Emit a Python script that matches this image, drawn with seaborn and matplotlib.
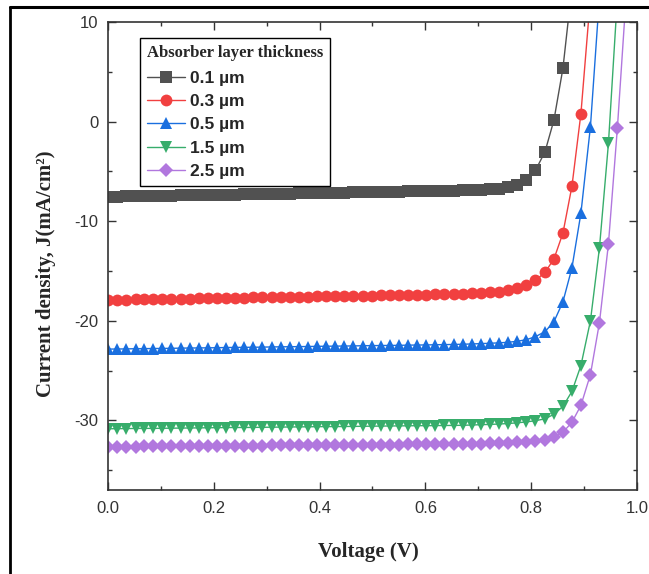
import numpy as np
import pandas as pd
import matplotlib
matplotlib.use('Agg')
import matplotlib.pyplot as plt
import matplotlib.ticker as tick
from matplotlib.lines import Line2D
import seaborn as sns

# voltage sweep (V)
voltage = [0.000, 0.017, 0.034, 0.052, 0.069, 0.086, 0.103, 0.120, 0.138, 0.155,
           0.172, 0.189, 0.206, 0.224, 0.241, 0.258, 0.275, 0.292, 0.310, 0.327,
           0.344, 0.361, 0.378, 0.396, 0.413, 0.430, 0.447, 0.464, 0.482, 0.499,
           0.516, 0.533, 0.550, 0.568, 0.585, 0.602, 0.619, 0.636, 0.654, 0.671,
           0.688, 0.705, 0.722, 0.740, 0.757, 0.774, 0.791, 0.808, 0.826, 0.843,
           0.860, 0.877, 0.894, 0.912, 0.929, 0.946, 0.963, 0.980]

# current density (mA/cm2) for each absorber thickness
j_01 = [-7.55, -7.53, -7.52, -7.50, -7.49, -7.47, -7.45, -7.44, -7.42, -7.41,
        -7.39, -7.37, -7.36, -7.34, -7.33, -7.31, -7.29, -7.28, -7.26, -7.25,
        -7.23, -7.21, -7.20, -7.18, -7.17, -7.15, -7.13, -7.12, -7.10, -7.09,
        -7.07, -7.05, -7.04, -7.02, -7.01, -6.99, -6.97, -6.95, -6.93, -6.91,
        -6.88, -6.85, -6.81, -6.74, -6.62, -6.40, -5.90, -4.90, -3.05, 0.15,
        5.35, 13.50]
j_03 = [-17.90, -17.89, -17.87, -17.86, -17.84, -17.83, -17.81, -17.80, -17.78, -17.77,
        -17.75, -17.74, -17.72, -17.71, -17.69, -17.68, -17.66, -17.65, -17.63, -17.62,
        -17.60, -17.59, -17.57, -17.56, -17.54, -17.53, -17.51, -17.50, -17.48, -17.47,
        -17.45, -17.44, -17.42, -17.41, -17.39, -17.37, -17.35, -17.33, -17.31, -17.28,
        -17.25, -17.21, -17.16, -17.08, -16.95, -16.75, -16.45, -15.95, -15.15, -13.80,
        -11.20, -6.50, 0.80, 12.50]
j_05 = [-22.85, -22.84, -22.83, -22.81, -22.80, -22.79, -22.78, -22.77, -22.75, -22.74,
        -22.73, -22.72, -22.71, -22.69, -22.68, -22.67, -22.66, -22.65, -22.63, -22.62,
        -22.61, -22.60, -22.59, -22.57, -22.56, -22.55, -22.54, -22.53, -22.51, -22.50,
        -22.49, -22.48, -22.47, -22.45, -22.44, -22.43, -22.41, -22.40, -22.38, -22.36,
        -22.33, -22.30, -22.26, -22.22, -22.16, -22.06, -21.90, -21.60, -21.10, -20.10,
        -18.10, -14.70, -9.20, -0.50, 12.50]
j_15 = [-30.85, -30.84, -30.83, -30.82, -30.81, -30.81, -30.80, -30.79, -30.78, -30.77,
        -30.76, -30.75, -30.74, -30.73, -30.72, -30.72, -30.71, -30.70, -30.69, -30.68,
        -30.67, -30.66, -30.65, -30.64, -30.63, -30.63, -30.62, -30.61, -30.60, -30.59,
        -30.58, -30.57, -30.56, -30.55, -30.54, -30.54, -30.53, -30.52, -30.51, -30.50,
        -30.47, -30.44, -30.41, -30.37, -30.32, -30.25, -30.16, -30.04, -29.85, -29.40,
        -28.60, -27.10, -24.50, -20.00, -12.70, -2.20, 12.50]
j_25 = [-32.65, -32.64, -32.64, -32.63, -32.62, -32.62, -32.61, -32.60, -32.59, -32.59,
        -32.58, -32.57, -32.57, -32.56, -32.55, -32.55, -32.54, -32.53, -32.52, -32.52,
        -32.51, -32.50, -32.50, -32.49, -32.48, -32.48, -32.47, -32.46, -32.45, -32.45,
        -32.44, -32.43, -32.43, -32.42, -32.41, -32.41, -32.40, -32.39, -32.38, -32.38,
        -32.36, -32.34, -32.32, -32.29, -32.26, -32.22, -32.16, -32.08, -31.95, -31.70,
        -31.20, -30.20, -28.50, -25.40, -20.20, -12.30, -0.60, 13.00]

labels = ['0.1 µm', '0.3 µm', '0.5 µm', '1.5 µm', '2.5 µm']
colors = ['#515151', '#F14040', '#1A6FDF', '#37AD6B', '#B177DE']
markers = ['s', 'o', '^', 'v', 'D']
sizes = [8, 8.5, 9, 9, 7]

sns.set_style('ticks')
plt.rcParams['font.family'] = ['Liberation Sans', 'DejaVu Sans']
plt.rcParams['axes.unicode_minus'] = False

fig = plt.figure(figsize=(6.49, 5.74), dpi=100)
ax = fig.add_axes([0.1664, 0.1463, 0.8151, 0.8154])

for j, lab, c, m, s in zip([j_01, j_03, j_05, j_15, j_25], labels, colors, markers, sizes):
    df = pd.DataFrame({'V': voltage[:len(j)], 'J': j})
    sns.lineplot(data=df, x='V', y='J', ax=ax, color=c, marker=m, markersize=s,
                 markeredgewidth=0, linewidth=1.0, label=lab, sort=False)

ax.set_xlim(0, 1.0)
ax.set_ylim(-37, 10)
ax.xaxis.set_major_locator(tick.MultipleLocator(0.2))
ax.xaxis.set_minor_locator(tick.MultipleLocator(0.1))
ax.yaxis.set_major_locator(tick.MultipleLocator(10))
ax.yaxis.set_minor_locator(tick.MultipleLocator(5))
ax.xaxis.set_major_formatter(tick.FormatStrFormatter('%.1f'))
ax.yaxis.set_major_formatter(tick.FuncFormatter(lambda v, _: f'{v:.0f}'))

for sp in ax.spines.values():
    sp.set_color('#333333')
    sp.set_linewidth(1.2)
ax.tick_params(which='both', direction='in', top=True, right=True, color='#333333', width=1.0)
ax.tick_params(which='major', length=5.5, labelsize=12, labelcolor='#333333')
ax.tick_params(which='minor', length=3)
ax.tick_params(axis='x', pad=8)
ax.tick_params(axis='y', pad=7)

ax.set_xlabel('Voltage (V)', family='Liberation Serif', fontweight='bold', fontsize=15)
ax.set_ylabel('Current density, J(mA/cm²)', family='Liberation Serif', fontweight='bold', fontsize=15)
ax.xaxis.set_label_coords(0.492, -0.112)
ax.xaxis.label.set_va('top')
ax.yaxis.set_label_coords(-0.098, 0.4615)

leg = ax.legend(loc='upper left', bbox_to_anchor=(0.06, 0.966), borderaxespad=0,
                title='Absorber layer thickness', numpoints=1, handlelength=2.2,
                handletextpad=0.3, labelspacing=0.47, borderpad=0.4, fancybox=False,
                framealpha=1, edgecolor='black', prop={'family': 'Liberation Sans', 'weight': 'bold', 'size': 12.5})
leg.get_title().set_fontfamily('Liberation Serif')
leg.get_title().set_fontweight('bold')
leg.get_title().set_fontsize(12)
leg._legend_box.align = 'left'
leg._legend_box.sep = 7
leg.get_frame().set_linewidth(1.0)

# outer picture frame (top and left edges)
fig.add_artist(Line2D([10 / 649, 1.0], [1 - 7 / 574, 1 - 7 / 574], color='black', linewidth=2.2,
                      transform=fig.transFigure))
fig.add_artist(Line2D([10 / 649, 10 / 649], [0, 1 - 7 / 574], color='black', linewidth=2.0,
                      transform=fig.transFigure))

fig.savefig('out.png', dpi=100)
